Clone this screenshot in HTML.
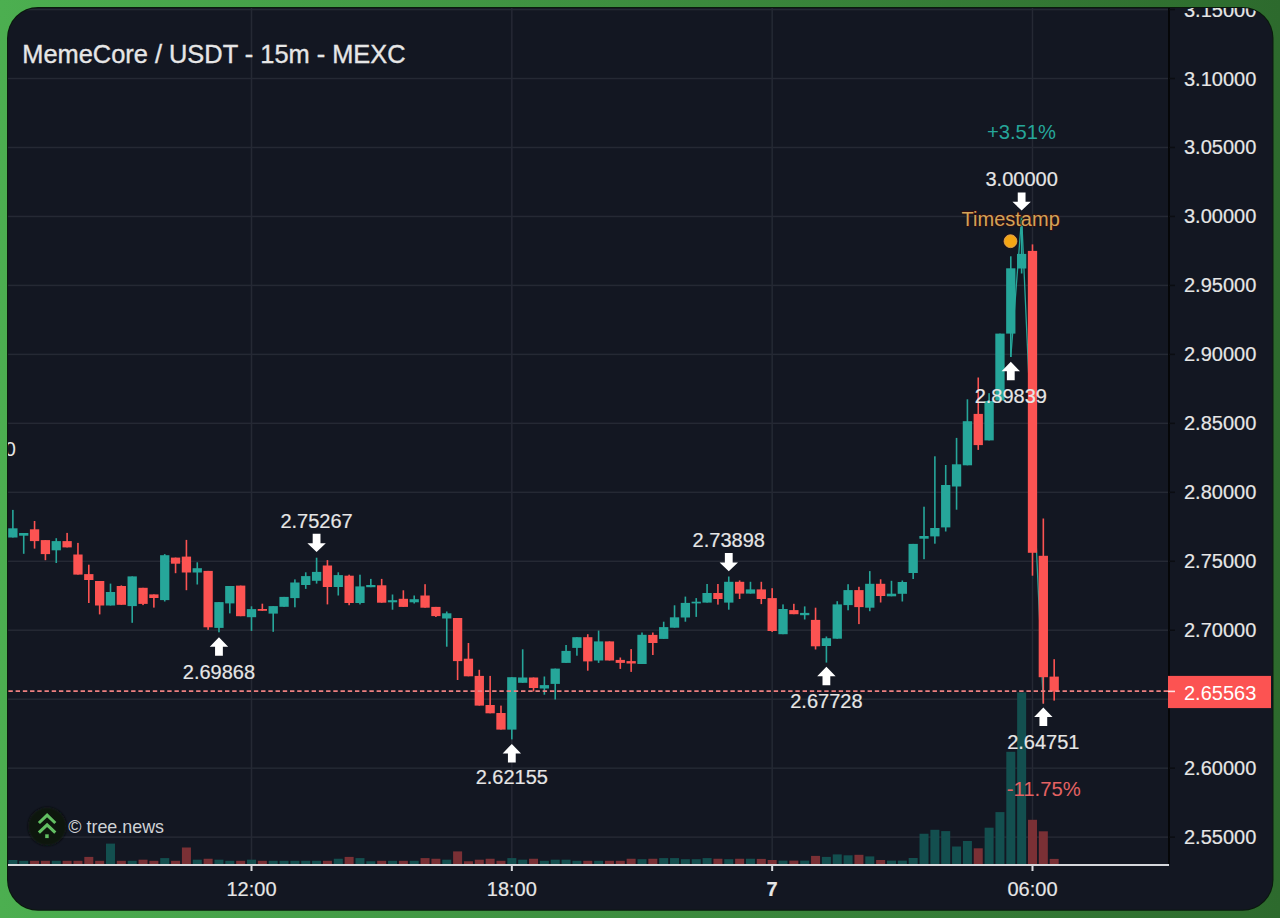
<!DOCTYPE html>
<html><head><meta charset="utf-8"><style>
html,body{margin:0;padding:0;background:#3d8d3f;}
body{width:1280px;height:918px;overflow:hidden;}
svg{display:block;font-family:"Liberation Sans",sans-serif;}
</style></head><body>
<svg width="1280" height="918" viewBox="0 0 1280 918">
<defs>
<linearGradient id="gg" x1="0" y1="0" x2="1" y2="0">
<stop offset="0" stop-color="#4caf50"/><stop offset="1" stop-color="#2d6a2d"/>
</linearGradient>
<clipPath id="card"><rect x="8" y="8" width="1264.5" height="901.8" rx="30" ry="30"/></clipPath>
<filter id="soft" x="-20%" y="-20%" width="140%" height="140%"><feGaussianBlur stdDeviation="0.8"/></filter>
<clipPath id="plot"><rect x="8" y="0" width="1160.5" height="864"/></clipPath>
</defs>
<rect x="0" y="0" width="1280" height="918" fill="url(#gg)"/>
<rect x="7" y="7" width="1266.5" height="903.8" rx="31" ry="31" fill="#0a1a0c"/>
<g clip-path="url(#card)">
<rect x="0" y="0" width="1280" height="918" fill="#131722"/>
<g clip-path="url(#plot)">
<rect x="8" y="8.80" width="1161" height="1.5" fill="#252934"/><rect x="8" y="77.76" width="1161" height="1.5" fill="#252934"/><rect x="8" y="146.73" width="1161" height="1.5" fill="#252934"/><rect x="8" y="215.69" width="1161" height="1.5" fill="#252934"/><rect x="8" y="284.66" width="1161" height="1.5" fill="#252934"/><rect x="8" y="353.63" width="1161" height="1.5" fill="#252934"/><rect x="8" y="422.59" width="1161" height="1.5" fill="#252934"/><rect x="8" y="491.56" width="1161" height="1.5" fill="#252934"/><rect x="8" y="560.52" width="1161" height="1.5" fill="#252934"/><rect x="8" y="629.48" width="1161" height="1.5" fill="#252934"/><rect x="8" y="698.45" width="1161" height="1.5" fill="#252934"/><rect x="8" y="767.41" width="1161" height="1.5" fill="#252934"/><rect x="8" y="836.38" width="1161" height="1.5" fill="#252934"/><rect x="250.75" y="0" width="1.5" height="864" fill="#252934"/><rect x="511.08" y="0" width="1.5" height="864" fill="#252934"/><rect x="771.41" y="0" width="1.5" height="864" fill="#252934"/><rect x="1031.74" y="0" width="1.5" height="864" fill="#252934"/>
<rect x="8.37" y="860.00" width="9.0" height="4.00" fill="#134f4f"/><rect x="19.22" y="860.80" width="9.0" height="3.20" fill="#134f4f"/><rect x="30.06" y="860.80" width="9.0" height="3.20" fill="#7a3035"/><rect x="40.91" y="860.80" width="9.0" height="3.20" fill="#7a3035"/><rect x="51.76" y="860.80" width="9.0" height="3.20" fill="#134f4f"/><rect x="62.61" y="860.80" width="9.0" height="3.20" fill="#7a3035"/><rect x="73.45" y="860.80" width="9.0" height="3.20" fill="#7a3035"/><rect x="84.30" y="856.90" width="9.0" height="7.10" fill="#7a3035"/><rect x="95.15" y="860.80" width="9.0" height="3.20" fill="#7a3035"/><rect x="105.99" y="843.60" width="9.0" height="20.40" fill="#134f4f"/><rect x="116.84" y="860.80" width="9.0" height="3.20" fill="#7a3035"/><rect x="127.69" y="860.80" width="9.0" height="3.20" fill="#134f4f"/><rect x="138.53" y="859.70" width="9.0" height="4.30" fill="#7a3035"/><rect x="149.38" y="860.80" width="9.0" height="3.20" fill="#7a3035"/><rect x="160.23" y="858.10" width="9.0" height="5.90" fill="#134f4f"/><rect x="171.07" y="860.80" width="9.0" height="3.20" fill="#7a3035"/><rect x="181.92" y="847.50" width="9.0" height="16.50" fill="#7a3035"/><rect x="192.77" y="859.70" width="9.0" height="4.30" fill="#134f4f"/><rect x="203.62" y="858.75" width="9.0" height="5.25" fill="#7a3035"/><rect x="214.46" y="859.70" width="9.0" height="4.30" fill="#134f4f"/><rect x="225.31" y="860.80" width="9.0" height="3.20" fill="#134f4f"/><rect x="236.16" y="860.80" width="9.0" height="3.20" fill="#7a3035"/><rect x="247.00" y="859.70" width="9.0" height="4.30" fill="#134f4f"/><rect x="257.85" y="860.80" width="9.0" height="3.20" fill="#7a3035"/><rect x="268.70" y="860.80" width="9.0" height="3.20" fill="#134f4f"/><rect x="279.55" y="860.80" width="9.0" height="3.20" fill="#134f4f"/><rect x="290.39" y="860.80" width="9.0" height="3.20" fill="#134f4f"/><rect x="301.24" y="860.80" width="9.0" height="3.20" fill="#134f4f"/><rect x="312.09" y="860.80" width="9.0" height="3.20" fill="#134f4f"/><rect x="322.93" y="860.80" width="9.0" height="3.20" fill="#7a3035"/><rect x="333.78" y="858.75" width="9.0" height="5.25" fill="#134f4f"/><rect x="344.63" y="856.90" width="9.0" height="7.10" fill="#7a3035"/><rect x="355.47" y="858.10" width="9.0" height="5.90" fill="#134f4f"/><rect x="366.32" y="861.25" width="9.0" height="2.75" fill="#134f4f"/><rect x="377.17" y="860.80" width="9.0" height="3.20" fill="#7a3035"/><rect x="388.01" y="860.80" width="9.0" height="3.20" fill="#134f4f"/><rect x="398.86" y="860.80" width="9.0" height="3.20" fill="#7a3035"/><rect x="409.71" y="860.80" width="9.0" height="3.20" fill="#134f4f"/><rect x="420.56" y="858.10" width="9.0" height="5.90" fill="#7a3035"/><rect x="431.40" y="858.75" width="9.0" height="5.25" fill="#7a3035"/><rect x="442.25" y="859.70" width="9.0" height="4.30" fill="#134f4f"/><rect x="453.10" y="851.40" width="9.0" height="12.60" fill="#7a3035"/><rect x="463.94" y="861.25" width="9.0" height="2.75" fill="#7a3035"/><rect x="474.79" y="859.70" width="9.0" height="4.30" fill="#7a3035"/><rect x="485.64" y="858.75" width="9.0" height="5.25" fill="#7a3035"/><rect x="496.48" y="860.80" width="9.0" height="3.20" fill="#7a3035"/><rect x="507.33" y="858.10" width="9.0" height="5.90" fill="#134f4f"/><rect x="518.18" y="859.70" width="9.0" height="4.30" fill="#134f4f"/><rect x="529.03" y="858.75" width="9.0" height="5.25" fill="#7a3035"/><rect x="539.87" y="860.80" width="9.0" height="3.20" fill="#134f4f"/><rect x="550.72" y="859.70" width="9.0" height="4.30" fill="#134f4f"/><rect x="561.57" y="859.70" width="9.0" height="4.30" fill="#134f4f"/><rect x="572.41" y="860.80" width="9.0" height="3.20" fill="#134f4f"/><rect x="583.26" y="860.80" width="9.0" height="3.20" fill="#7a3035"/><rect x="594.11" y="860.80" width="9.0" height="3.20" fill="#134f4f"/><rect x="604.95" y="860.80" width="9.0" height="3.20" fill="#7a3035"/><rect x="615.80" y="860.80" width="9.0" height="3.20" fill="#7a3035"/><rect x="626.65" y="858.75" width="9.0" height="5.25" fill="#7a3035"/><rect x="637.50" y="859.20" width="9.0" height="4.80" fill="#134f4f"/><rect x="648.34" y="858.75" width="9.0" height="5.25" fill="#7a3035"/><rect x="659.19" y="858.10" width="9.0" height="5.90" fill="#134f4f"/><rect x="670.04" y="858.10" width="9.0" height="5.90" fill="#134f4f"/><rect x="680.88" y="859.20" width="9.0" height="4.80" fill="#134f4f"/><rect x="691.73" y="859.20" width="9.0" height="4.80" fill="#134f4f"/><rect x="702.58" y="858.10" width="9.0" height="5.90" fill="#134f4f"/><rect x="713.42" y="858.75" width="9.0" height="5.25" fill="#7a3035"/><rect x="724.27" y="859.20" width="9.0" height="4.80" fill="#134f4f"/><rect x="735.12" y="858.75" width="9.0" height="5.25" fill="#7a3035"/><rect x="745.97" y="858.75" width="9.0" height="5.25" fill="#134f4f"/><rect x="756.81" y="858.90" width="9.0" height="5.10" fill="#7a3035"/><rect x="767.66" y="860.00" width="9.0" height="4.00" fill="#7a3035"/><rect x="778.51" y="860.60" width="9.0" height="3.40" fill="#134f4f"/><rect x="789.35" y="860.60" width="9.0" height="3.40" fill="#7a3035"/><rect x="800.20" y="860.60" width="9.0" height="3.40" fill="#134f4f"/><rect x="811.05" y="855.90" width="9.0" height="8.10" fill="#7a3035"/><rect x="821.89" y="856.90" width="9.0" height="7.10" fill="#134f4f"/><rect x="832.74" y="854.40" width="9.0" height="9.60" fill="#134f4f"/><rect x="843.59" y="855.30" width="9.0" height="8.70" fill="#134f4f"/><rect x="854.44" y="854.80" width="9.0" height="9.20" fill="#7a3035"/><rect x="865.28" y="856.40" width="9.0" height="7.60" fill="#134f4f"/><rect x="876.13" y="860.00" width="9.0" height="4.00" fill="#7a3035"/><rect x="886.98" y="860.60" width="9.0" height="3.40" fill="#134f4f"/><rect x="897.82" y="860.60" width="9.0" height="3.40" fill="#134f4f"/><rect x="908.67" y="858.00" width="9.0" height="6.00" fill="#134f4f"/><rect x="919.52" y="833.75" width="9.0" height="30.25" fill="#134f4f"/><rect x="930.37" y="829.80" width="9.0" height="34.20" fill="#134f4f"/><rect x="941.21" y="831.10" width="9.0" height="32.90" fill="#134f4f"/><rect x="952.06" y="846.50" width="9.0" height="17.50" fill="#134f4f"/><rect x="962.91" y="841.00" width="9.0" height="23.00" fill="#134f4f"/><rect x="973.75" y="848.30" width="9.0" height="15.70" fill="#7a3035"/><rect x="984.60" y="827.70" width="9.0" height="36.30" fill="#134f4f"/><rect x="995.45" y="812.10" width="9.0" height="51.90" fill="#134f4f"/><rect x="1006.29" y="751.80" width="9.0" height="112.20" fill="#134f4f"/><rect x="1017.14" y="692.30" width="9.0" height="171.70" fill="#134f4f"/><rect x="1027.99" y="819.80" width="9.0" height="44.20" fill="#7a3035"/><rect x="1038.83" y="831.30" width="9.0" height="32.70" fill="#7a3035"/><rect x="1049.68" y="858.90" width="9.0" height="5.10" fill="#7a3035"/>
<polyline points="1010.79,357.0 1021.64,216.8 1043.33,703.6" fill="none" stroke="#26a69a" stroke-width="1.3"/>
<rect x="12.07" y="509.90" width="1.6" height="27.60" fill="#26a69a"/><rect x="8.22" y="528.30" width="9.3" height="9.20" fill="#26a69a"/><rect x="22.92" y="533.00" width="1.6" height="20.80" fill="#26a69a"/><rect x="19.07" y="533.00" width="9.3" height="2.70" fill="#26a69a"/><rect x="33.76" y="521.00" width="1.6" height="27.60" fill="#fc5352"/><rect x="29.91" y="529.30" width="9.3" height="11.80" fill="#fc5352"/><rect x="44.61" y="540.10" width="1.6" height="20.10" fill="#fc5352"/><rect x="40.76" y="540.10" width="9.3" height="14.00" fill="#fc5352"/><rect x="55.46" y="538.20" width="1.6" height="24.80" fill="#26a69a"/><rect x="51.61" y="541.10" width="9.3" height="9.20" fill="#26a69a"/><rect x="66.31" y="532.90" width="1.6" height="14.50" fill="#fc5352"/><rect x="62.46" y="541.10" width="9.3" height="6.30" fill="#fc5352"/><rect x="77.15" y="542.90" width="1.6" height="31.70" fill="#fc5352"/><rect x="73.30" y="554.50" width="9.3" height="20.10" fill="#fc5352"/><rect x="88.00" y="564.70" width="1.6" height="38.30" fill="#fc5352"/><rect x="84.15" y="574.10" width="9.3" height="5.90" fill="#fc5352"/><rect x="98.85" y="581.00" width="1.6" height="33.40" fill="#fc5352"/><rect x="95.00" y="581.00" width="9.3" height="24.50" fill="#fc5352"/><rect x="109.69" y="583.60" width="1.6" height="21.90" fill="#26a69a"/><rect x="105.84" y="592.00" width="9.3" height="13.50" fill="#26a69a"/><rect x="120.54" y="585.40" width="1.6" height="19.40" fill="#fc5352"/><rect x="116.69" y="586.00" width="9.3" height="18.80" fill="#fc5352"/><rect x="131.39" y="576.40" width="1.6" height="46.40" fill="#26a69a"/><rect x="127.54" y="576.40" width="9.3" height="29.70" fill="#26a69a"/><rect x="142.23" y="587.80" width="1.6" height="17.30" fill="#fc5352"/><rect x="138.38" y="587.80" width="9.3" height="16.10" fill="#fc5352"/><rect x="153.08" y="594.40" width="1.6" height="13.20" fill="#fc5352"/><rect x="149.23" y="594.40" width="9.3" height="3.60" fill="#fc5352"/><rect x="163.93" y="554.10" width="1.6" height="47.40" fill="#26a69a"/><rect x="160.08" y="555.20" width="9.3" height="44.90" fill="#26a69a"/><rect x="174.77" y="557.60" width="1.6" height="15.60" fill="#fc5352"/><rect x="170.92" y="557.60" width="9.3" height="6.10" fill="#fc5352"/><rect x="185.62" y="539.90" width="1.6" height="50.30" fill="#fc5352"/><rect x="181.77" y="556.60" width="9.3" height="15.90" fill="#fc5352"/><rect x="196.47" y="562.30" width="1.6" height="22.20" fill="#26a69a"/><rect x="192.62" y="568.20" width="9.3" height="4.30" fill="#26a69a"/><rect x="207.32" y="570.90" width="1.6" height="58.90" fill="#fc5352"/><rect x="203.47" y="570.90" width="9.3" height="56.40" fill="#fc5352"/><rect x="218.16" y="602.10" width="1.6" height="30.20" fill="#26a69a"/><rect x="214.31" y="602.10" width="9.3" height="25.80" fill="#26a69a"/><rect x="229.01" y="586.00" width="1.6" height="27.40" fill="#26a69a"/><rect x="225.16" y="586.00" width="9.3" height="17.40" fill="#26a69a"/><rect x="239.86" y="585.60" width="1.6" height="30.60" fill="#fc5352"/><rect x="236.01" y="585.60" width="9.3" height="30.60" fill="#fc5352"/><rect x="250.70" y="606.30" width="1.6" height="24.60" fill="#26a69a"/><rect x="246.85" y="609.10" width="9.3" height="8.10" fill="#26a69a"/><rect x="261.55" y="603.70" width="1.6" height="7.10" fill="#fc5352"/><rect x="257.70" y="609.00" width="9.3" height="1.80" fill="#fc5352"/><rect x="272.40" y="606.10" width="1.6" height="25.70" fill="#26a69a"/><rect x="268.55" y="606.10" width="9.3" height="7.50" fill="#26a69a"/><rect x="283.25" y="596.90" width="1.6" height="9.90" fill="#26a69a"/><rect x="279.40" y="596.90" width="9.3" height="9.90" fill="#26a69a"/><rect x="294.09" y="579.40" width="1.6" height="27.90" fill="#26a69a"/><rect x="290.24" y="582.50" width="9.3" height="15.60" fill="#26a69a"/><rect x="304.94" y="572.30" width="1.6" height="16.60" fill="#26a69a"/><rect x="301.09" y="576.10" width="9.3" height="8.90" fill="#26a69a"/><rect x="315.79" y="557.70" width="1.6" height="25.90" fill="#26a69a"/><rect x="311.94" y="571.90" width="9.3" height="8.90" fill="#26a69a"/><rect x="326.63" y="560.10" width="1.6" height="44.30" fill="#fc5352"/><rect x="322.78" y="565.50" width="9.3" height="21.50" fill="#fc5352"/><rect x="337.48" y="572.30" width="1.6" height="23.20" fill="#26a69a"/><rect x="333.63" y="575.10" width="9.3" height="11.90" fill="#26a69a"/><rect x="348.33" y="574.70" width="1.6" height="30.50" fill="#fc5352"/><rect x="344.48" y="575.70" width="9.3" height="27.30" fill="#fc5352"/><rect x="359.17" y="574.70" width="1.6" height="29.70" fill="#26a69a"/><rect x="355.32" y="586.40" width="9.3" height="16.60" fill="#26a69a"/><rect x="370.02" y="578.90" width="1.6" height="8.30" fill="#26a69a"/><rect x="366.17" y="585.00" width="9.3" height="2.20" fill="#26a69a"/><rect x="380.87" y="578.90" width="1.6" height="23.80" fill="#fc5352"/><rect x="377.02" y="585.30" width="9.3" height="17.40" fill="#fc5352"/><rect x="391.71" y="594.50" width="1.6" height="15.20" fill="#26a69a"/><rect x="387.87" y="600.20" width="9.3" height="2.10" fill="#26a69a"/><rect x="402.56" y="590.30" width="1.6" height="16.60" fill="#fc5352"/><rect x="398.71" y="598.80" width="9.3" height="8.10" fill="#fc5352"/><rect x="413.41" y="595.50" width="1.6" height="8.00" fill="#26a69a"/><rect x="409.56" y="599.20" width="9.3" height="3.10" fill="#26a69a"/><rect x="424.26" y="584.20" width="1.6" height="23.50" fill="#fc5352"/><rect x="420.41" y="595.50" width="9.3" height="12.20" fill="#fc5352"/><rect x="435.10" y="606.90" width="1.6" height="10.10" fill="#fc5352"/><rect x="431.25" y="606.90" width="9.3" height="9.20" fill="#fc5352"/><rect x="445.95" y="611.50" width="1.6" height="35.20" fill="#26a69a"/><rect x="442.10" y="613.30" width="9.3" height="5.20" fill="#26a69a"/><rect x="456.80" y="618.00" width="1.6" height="62.00" fill="#fc5352"/><rect x="452.95" y="618.00" width="9.3" height="43.10" fill="#fc5352"/><rect x="467.64" y="643.00" width="1.6" height="33.30" fill="#fc5352"/><rect x="463.79" y="658.70" width="9.3" height="17.60" fill="#fc5352"/><rect x="478.49" y="669.80" width="1.6" height="35.80" fill="#fc5352"/><rect x="474.64" y="675.90" width="9.3" height="29.70" fill="#fc5352"/><rect x="489.34" y="675.90" width="1.6" height="37.40" fill="#fc5352"/><rect x="485.49" y="705.00" width="9.3" height="8.30" fill="#fc5352"/><rect x="500.18" y="705.60" width="1.6" height="24.00" fill="#fc5352"/><rect x="496.33" y="713.00" width="9.3" height="16.60" fill="#fc5352"/><rect x="511.03" y="677.20" width="1.6" height="62.20" fill="#26a69a"/><rect x="507.18" y="677.20" width="9.3" height="52.40" fill="#26a69a"/><rect x="521.88" y="649.30" width="1.6" height="33.50" fill="#26a69a"/><rect x="518.03" y="677.50" width="9.3" height="5.30" fill="#26a69a"/><rect x="532.73" y="677.50" width="1.6" height="13.90" fill="#fc5352"/><rect x="528.88" y="677.50" width="9.3" height="10.50" fill="#fc5352"/><rect x="543.57" y="676.50" width="1.6" height="18.20" fill="#26a69a"/><rect x="539.72" y="685.10" width="9.3" height="3.40" fill="#26a69a"/><rect x="554.42" y="668.60" width="1.6" height="30.90" fill="#26a69a"/><rect x="550.57" y="668.60" width="9.3" height="15.30" fill="#26a69a"/><rect x="565.27" y="645.00" width="1.6" height="17.90" fill="#26a69a"/><rect x="561.42" y="650.90" width="9.3" height="12.00" fill="#26a69a"/><rect x="576.11" y="637.20" width="1.6" height="18.50" fill="#26a69a"/><rect x="572.26" y="637.20" width="9.3" height="10.70" fill="#26a69a"/><rect x="586.96" y="634.20" width="1.6" height="36.50" fill="#fc5352"/><rect x="583.11" y="637.20" width="9.3" height="24.20" fill="#fc5352"/><rect x="597.81" y="630.60" width="1.6" height="32.30" fill="#26a69a"/><rect x="593.96" y="641.40" width="9.3" height="19.10" fill="#26a69a"/><rect x="608.65" y="641.40" width="1.6" height="19.10" fill="#fc5352"/><rect x="604.80" y="641.40" width="9.3" height="19.10" fill="#fc5352"/><rect x="619.50" y="657.50" width="1.6" height="11.40" fill="#fc5352"/><rect x="615.65" y="659.90" width="9.3" height="3.00" fill="#fc5352"/><rect x="630.35" y="649.10" width="1.6" height="22.80" fill="#fc5352"/><rect x="626.50" y="661.10" width="9.3" height="2.40" fill="#fc5352"/><rect x="641.20" y="632.50" width="1.6" height="31.50" fill="#26a69a"/><rect x="637.35" y="634.80" width="9.3" height="29.20" fill="#26a69a"/><rect x="652.04" y="632.50" width="1.6" height="22.50" fill="#fc5352"/><rect x="648.19" y="634.90" width="9.3" height="8.10" fill="#fc5352"/><rect x="662.89" y="621.70" width="1.6" height="17.20" fill="#26a69a"/><rect x="659.04" y="627.10" width="9.3" height="11.80" fill="#26a69a"/><rect x="673.74" y="605.30" width="1.6" height="22.40" fill="#26a69a"/><rect x="669.89" y="617.30" width="9.3" height="10.40" fill="#26a69a"/><rect x="684.58" y="596.60" width="1.6" height="25.10" fill="#26a69a"/><rect x="680.73" y="602.90" width="9.3" height="14.60" fill="#26a69a"/><rect x="695.43" y="598.10" width="1.6" height="18.80" fill="#26a69a"/><rect x="691.58" y="601.70" width="9.3" height="1.70" fill="#26a69a"/><rect x="706.28" y="584.00" width="1.6" height="18.60" fill="#26a69a"/><rect x="702.43" y="593.00" width="9.3" height="9.60" fill="#26a69a"/><rect x="717.12" y="584.00" width="1.6" height="20.60" fill="#fc5352"/><rect x="713.27" y="593.00" width="9.3" height="6.00" fill="#fc5352"/><rect x="727.97" y="576.50" width="1.6" height="33.20" fill="#26a69a"/><rect x="724.12" y="581.80" width="9.3" height="20.80" fill="#26a69a"/><rect x="738.82" y="580.40" width="1.6" height="18.60" fill="#fc5352"/><rect x="734.97" y="581.80" width="9.3" height="11.80" fill="#fc5352"/><rect x="749.67" y="581.80" width="1.6" height="11.80" fill="#26a69a"/><rect x="745.82" y="589.40" width="9.3" height="4.20" fill="#26a69a"/><rect x="760.51" y="581.80" width="1.6" height="22.30" fill="#fc5352"/><rect x="756.66" y="589.40" width="9.3" height="9.60" fill="#fc5352"/><rect x="771.36" y="588.20" width="1.6" height="43.70" fill="#fc5352"/><rect x="767.51" y="598.10" width="9.3" height="32.90" fill="#fc5352"/><rect x="782.21" y="604.40" width="1.6" height="29.80" fill="#26a69a"/><rect x="778.36" y="609.00" width="9.3" height="25.20" fill="#26a69a"/><rect x="793.05" y="603.80" width="1.6" height="10.40" fill="#fc5352"/><rect x="789.20" y="610.10" width="9.3" height="4.10" fill="#fc5352"/><rect x="803.90" y="606.40" width="1.6" height="13.10" fill="#26a69a"/><rect x="800.05" y="612.90" width="9.3" height="2.30" fill="#26a69a"/><rect x="814.75" y="607.70" width="1.6" height="41.80" fill="#fc5352"/><rect x="810.90" y="619.90" width="9.3" height="26.40" fill="#fc5352"/><rect x="825.60" y="636.50" width="1.6" height="26.10" fill="#26a69a"/><rect x="821.75" y="638.20" width="9.3" height="7.80" fill="#26a69a"/><rect x="836.44" y="601.20" width="1.6" height="37.50" fill="#26a69a"/><rect x="832.59" y="604.40" width="9.3" height="34.30" fill="#26a69a"/><rect x="847.29" y="584.20" width="1.6" height="26.10" fill="#26a69a"/><rect x="843.44" y="590.10" width="9.3" height="15.00" fill="#26a69a"/><rect x="858.14" y="586.80" width="1.6" height="37.30" fill="#fc5352"/><rect x="854.29" y="590.10" width="9.3" height="17.00" fill="#fc5352"/><rect x="868.98" y="571.10" width="1.6" height="40.10" fill="#26a69a"/><rect x="865.13" y="583.80" width="9.3" height="23.90" fill="#26a69a"/><rect x="879.83" y="579.30" width="1.6" height="23.20" fill="#fc5352"/><rect x="875.98" y="583.80" width="9.3" height="12.20" fill="#fc5352"/><rect x="890.68" y="580.80" width="1.6" height="15.50" fill="#26a69a"/><rect x="886.83" y="593.70" width="9.3" height="2.60" fill="#26a69a"/><rect x="901.52" y="580.50" width="1.6" height="21.00" fill="#26a69a"/><rect x="897.67" y="582.00" width="9.3" height="11.80" fill="#26a69a"/><rect x="912.37" y="543.90" width="1.6" height="35.10" fill="#26a69a"/><rect x="908.52" y="543.90" width="9.3" height="29.10" fill="#26a69a"/><rect x="923.22" y="506.70" width="1.6" height="52.50" fill="#26a69a"/><rect x="919.37" y="536.00" width="9.3" height="2.70" fill="#26a69a"/><rect x="934.07" y="456.30" width="1.6" height="87.40" fill="#26a69a"/><rect x="930.22" y="528.00" width="9.3" height="8.40" fill="#26a69a"/><rect x="944.91" y="465.00" width="1.6" height="66.50" fill="#26a69a"/><rect x="941.06" y="485.00" width="9.3" height="42.40" fill="#26a69a"/><rect x="955.76" y="437.90" width="1.6" height="71.80" fill="#26a69a"/><rect x="951.91" y="464.30" width="9.3" height="22.20" fill="#26a69a"/><rect x="966.61" y="399.30" width="1.6" height="66.00" fill="#26a69a"/><rect x="962.76" y="421.20" width="9.3" height="44.10" fill="#26a69a"/><rect x="977.45" y="377.50" width="1.6" height="72.40" fill="#fc5352"/><rect x="973.60" y="413.90" width="9.3" height="31.20" fill="#fc5352"/><rect x="988.30" y="393.20" width="1.6" height="47.20" fill="#26a69a"/><rect x="984.45" y="401.00" width="9.3" height="39.40" fill="#26a69a"/><rect x="999.15" y="333.60" width="1.6" height="66.90" fill="#26a69a"/><rect x="995.30" y="333.60" width="9.3" height="66.90" fill="#26a69a"/><rect x="1009.99" y="256.30" width="1.6" height="100.70" fill="#26a69a"/><rect x="1006.14" y="268.30" width="9.3" height="65.30" fill="#26a69a"/><rect x="1020.84" y="216.80" width="1.6" height="56.70" fill="#26a69a"/><rect x="1016.99" y="253.90" width="9.3" height="14.60" fill="#26a69a"/><rect x="1031.69" y="244.40" width="1.6" height="331.30" fill="#fc5352"/><rect x="1027.84" y="250.90" width="9.3" height="301.90" fill="#fc5352"/><rect x="1042.53" y="518.50" width="1.6" height="185.10" fill="#fc5352"/><rect x="1038.68" y="555.80" width="9.3" height="121.40" fill="#fc5352"/><rect x="1053.38" y="659.20" width="1.6" height="41.40" fill="#fc5352"/><rect x="1049.53" y="676.60" width="9.3" height="14.80" fill="#fc5352"/>
<rect x="8" y="690.6" width="1160" height="1.6" fill="none"/>
<line x1="8" y1="691.1" x2="1168" y2="691.1" stroke="#ee8080" stroke-width="1.7" stroke-dasharray="4.4 2.82" stroke-dashoffset="-0.4"/>
<path d="M312.69,533.80 L320.49,533.80 L320.49,543.20 L325.79,543.20 L316.59,552.00 L307.39,543.20 L312.69,543.20 Z" fill="#ffffff"/><text x="316.59" y="528.00" fill="#e6e6e6" font-size="20.0" text-anchor="middle" font-weight="normal" stroke="#e6e6e6" stroke-width="0.18">2.75267</text><path d="M724.87,553.00 L732.67,553.00 L732.67,562.40 L737.97,562.40 L728.77,571.20 L719.57,562.40 L724.87,562.40 Z" fill="#ffffff"/><text x="728.77" y="547.00" fill="#e6e6e6" font-size="20.0" text-anchor="middle" font-weight="normal" stroke="#e6e6e6" stroke-width="0.18">2.73898</text><path d="M1017.74,192.40 L1025.54,192.40 L1025.54,201.80 L1030.84,201.80 L1021.64,210.60 L1012.44,201.80 L1017.74,201.80 Z" fill="#ffffff"/><text x="1021.64" y="185.50" fill="#e6e6e6" font-size="20.0" text-anchor="middle" font-weight="normal" stroke="#e6e6e6" stroke-width="0.18">3.00000</text><path d="M215.06,655.80 L222.86,655.80 L222.86,646.80 L228.16,646.80 L218.96,637.30 L209.76,646.80 L215.06,646.80 Z" fill="#ffffff"/><text x="218.96" y="678.80" fill="#e6e6e6" font-size="20.0" text-anchor="middle" font-weight="normal" stroke="#e6e6e6" stroke-width="0.18">2.69868</text><path d="M507.93,762.40 L515.73,762.40 L515.73,753.40 L521.03,753.40 L511.83,743.90 L502.63,753.40 L507.93,753.40 Z" fill="#ffffff"/><text x="511.83" y="784.30" fill="#e6e6e6" font-size="20.0" text-anchor="middle" font-weight="normal" stroke="#e6e6e6" stroke-width="0.18">2.62155</text><path d="M822.50,685.20 L830.29,685.20 L830.29,676.20 L835.60,676.20 L826.39,666.70 L817.19,676.20 L822.50,676.20 Z" fill="#ffffff"/><text x="826.39" y="707.70" fill="#e6e6e6" font-size="20.0" text-anchor="middle" font-weight="normal" stroke="#e6e6e6" stroke-width="0.18">2.67728</text><path d="M1006.89,380.30 L1014.69,380.30 L1014.69,371.30 L1019.99,371.30 L1010.79,361.80 L1001.59,371.30 L1006.89,371.30 Z" fill="#ffffff"/><text x="1010.79" y="403.00" fill="#e6e6e6" font-size="20.0" text-anchor="middle" font-weight="normal" stroke="#e6e6e6" stroke-width="0.18">2.89839</text><path d="M1039.43,726.10 L1047.23,726.10 L1047.23,717.10 L1052.53,717.10 L1043.33,707.60 L1034.13,717.10 L1039.43,717.10 Z" fill="#ffffff"/><text x="1043.33" y="749.00" fill="#e6e6e6" font-size="20.0" text-anchor="middle" font-weight="normal" stroke="#e6e6e6" stroke-width="0.18">2.64751</text>
<text x="15.9" y="456.0" fill="#e6e6e6" font-size="20.0" text-anchor="end">2.80000</text>
<text x="961.6" y="225.8" fill="#d2a458" font-size="20.0" stroke="#3a0c0c" stroke-width="1.3" paint-order="stroke">Timestamp</text>
<circle cx="1010.5" cy="241.2" r="7.3" fill="#3a0c0c"/><circle cx="1010.5" cy="241.2" r="6.4" fill="#f5a614" stroke="#d8aa5a" stroke-width="0.9"/>
<text x="1021.5" y="139.0" fill="#26a69a" font-size="20.2" text-anchor="middle">+3.51%</text>
<text x="1043.8" y="796.4" fill="#e46262" font-size="20.3" text-anchor="middle">-11.75%</text>
<circle cx="47.2" cy="826.4" r="19.2" fill="#0d1210" filter="url(#soft)"/>
<path d="M38.9,823.0 L47.1,815.2 L55.3,823.0 M38.9,832.6 L47.1,824.8 L55.3,832.6" fill="none" stroke="#62bf62" stroke-width="3.1" stroke-linecap="butt"/>
<rect x="45.2" y="834.3" width="3.5" height="3.8" fill="#62bf62"/>
<text x="68.3" y="832.8" fill="#cfd2d6" font-size="17.9">© tree.news</text>
<text x="22.3" y="63.3" fill="#e6e6e6" stroke="#e6e6e6" stroke-width="0.35" font-size="25.4">MemeCore / USDT - 15m - MEXC</text>
</g>
<rect x="1168" y="0" width="2" height="864" fill="#050608"/>
<rect x="8" y="864" width="1161" height="2" fill="#d6d8dc"/>
<rect x="1169" y="8.80" width="6" height="1.5" fill="#0b0d12"/><text x="1256.30" y="16.55" fill="#e6e6e6" font-size="20.0" text-anchor="end" font-weight="normal" stroke="#e6e6e6" stroke-width="0.18">3.15000</text><rect x="1169" y="77.76" width="6" height="1.5" fill="#0b0d12"/><text x="1256.30" y="85.51" fill="#e6e6e6" font-size="20.0" text-anchor="end" font-weight="normal" stroke="#e6e6e6" stroke-width="0.18">3.10000</text><rect x="1169" y="146.73" width="6" height="1.5" fill="#0b0d12"/><text x="1256.30" y="154.48" fill="#e6e6e6" font-size="20.0" text-anchor="end" font-weight="normal" stroke="#e6e6e6" stroke-width="0.18">3.05000</text><rect x="1169" y="215.69" width="6" height="1.5" fill="#0b0d12"/><text x="1256.30" y="223.44" fill="#e6e6e6" font-size="20.0" text-anchor="end" font-weight="normal" stroke="#e6e6e6" stroke-width="0.18">3.00000</text><rect x="1169" y="284.66" width="6" height="1.5" fill="#0b0d12"/><text x="1256.30" y="292.41" fill="#e6e6e6" font-size="20.0" text-anchor="end" font-weight="normal" stroke="#e6e6e6" stroke-width="0.18">2.95000</text><rect x="1169" y="353.63" width="6" height="1.5" fill="#0b0d12"/><text x="1256.30" y="361.38" fill="#e6e6e6" font-size="20.0" text-anchor="end" font-weight="normal" stroke="#e6e6e6" stroke-width="0.18">2.90000</text><rect x="1169" y="422.59" width="6" height="1.5" fill="#0b0d12"/><text x="1256.30" y="430.34" fill="#e6e6e6" font-size="20.0" text-anchor="end" font-weight="normal" stroke="#e6e6e6" stroke-width="0.18">2.85000</text><rect x="1169" y="491.56" width="6" height="1.5" fill="#0b0d12"/><text x="1256.30" y="499.31" fill="#e6e6e6" font-size="20.0" text-anchor="end" font-weight="normal" stroke="#e6e6e6" stroke-width="0.18">2.80000</text><rect x="1169" y="560.52" width="6" height="1.5" fill="#0b0d12"/><text x="1256.30" y="568.27" fill="#e6e6e6" font-size="20.0" text-anchor="end" font-weight="normal" stroke="#e6e6e6" stroke-width="0.18">2.75000</text><rect x="1169" y="629.48" width="6" height="1.5" fill="#0b0d12"/><text x="1256.30" y="637.23" fill="#e6e6e6" font-size="20.0" text-anchor="end" font-weight="normal" stroke="#e6e6e6" stroke-width="0.18">2.70000</text><rect x="1169" y="767.41" width="6" height="1.5" fill="#0b0d12"/><text x="1256.30" y="775.16" fill="#e6e6e6" font-size="20.0" text-anchor="end" font-weight="normal" stroke="#e6e6e6" stroke-width="0.18">2.60000</text><rect x="1169" y="836.38" width="6" height="1.5" fill="#0b0d12"/><text x="1256.30" y="844.13" fill="#e6e6e6" font-size="20.0" text-anchor="end" font-weight="normal" stroke="#e6e6e6" stroke-width="0.18">2.55000</text>
<rect x="1168" y="675.9" width="103" height="32.2" fill="#fc5352"/>
<rect x="1168" y="690.6" width="7" height="1.6" fill="#ffe0e0"/>
<text x="1256.3" y="699.6" fill="#ffffff" font-size="20.0" text-anchor="end">2.65563</text>
<rect x="250.50" y="865" width="2" height="6" fill="#d6d8dc"/>
<text x="251.50" y="896.10" fill="#e6e6e6" font-size="20.0" text-anchor="middle" font-weight="normal" stroke="#e6e6e6" stroke-width="0.18">12:00</text>
<rect x="510.83" y="865" width="2" height="6" fill="#d6d8dc"/>
<text x="511.83" y="896.10" fill="#e6e6e6" font-size="20.0" text-anchor="middle" font-weight="normal" stroke="#e6e6e6" stroke-width="0.18">18:00</text>
<rect x="771.16" y="865" width="2" height="6" fill="#d6d8dc"/>
<text x="772.16" y="896.10" fill="#e6e6e6" font-size="20.0" text-anchor="middle" font-weight="bold" stroke="#e6e6e6" stroke-width="0.18">7</text>
<rect x="1031.49" y="865" width="2" height="6" fill="#d6d8dc"/>
<text x="1032.49" y="896.10" fill="#e6e6e6" font-size="20.0" text-anchor="middle" font-weight="normal" stroke="#e6e6e6" stroke-width="0.18">06:00</text>
</g>
</svg>
</body></html>
